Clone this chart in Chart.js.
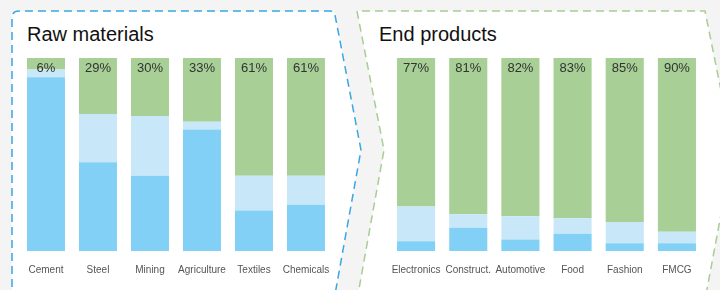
<!DOCTYPE html>
<html>
<head>
<meta charset="utf-8">
<script src="https://cdn.jsdelivr.net/npm/chart.js@4/dist/chart.umd.min.js"></script>
<style>
  html, body { margin: 0; padding: 0; }
  body { width: 720px; height: 290px; background: #f4f4f4; position: relative; overflow: hidden;
         font-family: "Liberation Sans", Arial, sans-serif; }
  #panels { position: absolute; left: 0; top: 0; }
  .title { position: absolute; top: 23px; font-size: 20px; color: #111; }
  canvas.chart { position: absolute; top: 52px; }
</style>
</head>
<body>
<svg id="panels" width="720" height="290">
  <path d="M 12 300 L 12 18 Q 12 11 19 11 L 330 11 Q 334 11 335 15 L 361 150 L 334 300"
        fill="#fff" stroke="#39a7e1" stroke-width="1.5" stroke-dasharray="8 5"/>
  <path d="M 357 300 L 384 150 L 357 11 L 705 11 L 733 150 L 705 300 Z"
        fill="#fff" stroke="#a6ce95" stroke-width="1.5" stroke-dasharray="8 5"/>
</svg>
<div class="title" style="left:27px">Raw materials</div>
<div class="title" style="left:379px">End products</div>
<canvas id="rawChart" class="chart" width="312" height="238" style="left:20px"></canvas>
<canvas id="endChart" class="chart" width="313" height="238" style="left:390px"></canvas>
<script>
// raw materials
var rawLabels = ['Cement', 'Steel', 'Mining', 'Agriculture', 'Textiles', 'Chemicals'];
var rawDark = [90, 46, 39, 63, 21, 24];
var rawLight = [4, 25, 31, 4, 18, 15];
var rawGreen = [6, 29, 30, 33, 61, 61];

// end products
var endLabels = ['Electronics', 'Construct.', 'Automotive', 'Food', 'Fashion', 'FMCG'];
var endDark = [5, 12, 6, 9, 4, 4];
var endLight = [18, 7, 12, 8, 11, 6];
var endGreen = [77, 81, 82, 83, 85, 90];

const DARK_BLUE = '#82d0f5';
const LIGHT_BLUE = '#c8e7f8';
const GREEN = '#a7cf96';

// percentage on top of the green part
const topLabels = {
    id: 'topLabels',
    afterDatasetsDraw(chart) {
        const ctx = chart.ctx;
        const meta = chart.getDatasetMeta(2);
        const values = chart.data.datasets[2].data;
        ctx.save();
        ctx.font = '13px "Liberation Sans", Arial, sans-serif';
        ctx.fillStyle = '#333';
        ctx.textAlign = 'center';
        ctx.textBaseline = 'middle';
        meta.data.forEach((bar, i) => {
            ctx.fillText(values[i] + '%', bar.x, bar.y + 10);
        });
        ctx.restore();
    }
};

function makeChart(id, labels, dark, light, green) {
    const ds = (data, color) => ({
        data: data,
        backgroundColor: color,
        borderWidth: 0,
        barPercentage: 1,
        categoryPercentage: 0.73
    });
    return new Chart(document.getElementById(id), {
        type: 'bar',
        data: {
            labels: labels,
            datasets: [ds(dark, DARK_BLUE), ds(light, LIGHT_BLUE), ds(green, GREEN)]
        },
        options: {
            responsive: false,
            animation: false,
            devicePixelRatio: 1,
            layout: { padding: { top: 6, bottom: 1, left: 0, right: 0 } },
            plugins: { legend: { display: false }, tooltip: { enabled: false } },
            scales: {
                x: {
                    stacked: true,
                    grid: { display: false, drawTicks: false },
                    border: { display: false },
                    afterFit: function(scale) {
                        scale.paddingLeft = 0;
                        scale.paddingRight = 0;
                    },
                    ticks: {
                        color: '#555',
                        padding: 13,
                        maxRotation: 0,
                        autoSkip: false,
                        font: { size: 10, family: '"Liberation Sans", Arial, sans-serif' }
                    }
                },
                y: { stacked: true, min: 0, max: 100, display: false }
            }
        },
        plugins: [topLabels]
    });
}

makeChart('rawChart', rawLabels, rawDark, rawLight, rawGreen);
makeChart('endChart', endLabels, endDark, endLight, endGreen);
</script>
</body>
</html>
